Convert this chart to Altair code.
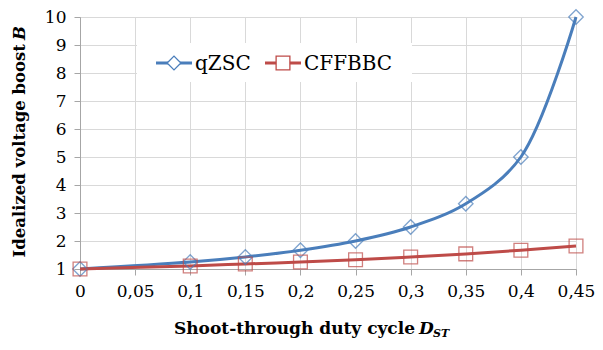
import altair as alt
import pandas as pd

# ---- data ----
duty = [0, 0.1, 0.15, 0.2, 0.25, 0.3, 0.35, 0.4, 0.45]
qzsc = [1, 1.25, 1.43, 1.67, 2, 2.5, 3.33, 5, 10]
cffbbc = [1, 1.11, 1.18, 1.25, 1.33, 1.43, 1.54, 1.67, 1.82]
series_names = ["qZSC", "CFFBBC"]
series_colors = ["#4a7ebb", "#be4b48"]
x_ticks = [0, 0.05, 0.1, 0.15, 0.2, 0.25, 0.3, 0.35, 0.4, 0.45]
y_ticks = [1, 2, 3, 4, 5, 6, 7, 8, 9, 10]

rows = []
for d, v in zip(duty, qzsc):
    rows.append({"series": "qZSC", "D": d, "B": v})
for d, v in zip(duty, cffbbc):
    rows.append({"series": "CFFBBC", "D": d, "B": v})
df = pd.DataFrame(rows)

FONT = "DejaVu Serif"
GRID = "#d9d9d9"
AXIS = "#a6a6a6"

x = alt.X("D:Q", scale=alt.Scale(domain=[0, 0.45], nice=False, zero=False),
          axis=alt.Axis(values=x_ticks, title=None, grid=True, gridColor=GRID,
                        domainColor=AXIS, tickColor=AXIS, tickSize=6,
                        labelFont=FONT, labelFontSize=17, labelColor="black",
                        labelPadding=8, labelFlush=False, labelOverlap=False,
                        labelExpr="replace(format(datum.value, '.2~f'), '.', ',')"))
y = alt.Y("B:Q", scale=alt.Scale(domain=[1, 10], nice=False, zero=False),
          axis=alt.Axis(values=y_ticks, title=None, grid=True, gridColor=GRID,
                        domainColor=AXIS, tickColor=AXIS, tickSize=6,
                        labelFont=FONT, labelFontSize=17, labelColor="black",
                        labelPadding=8, labelFlush=False, labelOverlap=False))
color = alt.Color("series:N", scale=alt.Scale(domain=series_names, range=series_colors),
                  legend=None)

base = alt.Chart(df)
lines = base.mark_line(strokeWidth=3, interpolate="catmull-rom").encode(
    x=x, y=y, color=color, detail="series:N")
pts_q = base.transform_filter(alt.datum.series == "qZSC").mark_point(
    shape="diamond", filled=False, size=210, strokeWidth=1.3).encode(x=x, y=y, color=color)
pts_c = base.transform_filter(alt.datum.series == "CFFBBC").mark_point(
    shape="square", filled=False, size=190, strokeWidth=1.3).encode(x=x, y=y, color=color)

one = alt.Data(values=[{"k": 1}])

# legend box
leg_box = alt.Chart(one).mark_rect(fill="white").encode(
    x=alt.value(57), x2=alt.value(332), y=alt.value(26), y2=alt.value(65))
leg_items = []
for name, col, shp, x0 in [("qZSC", series_colors[0], "diamond", 76),
                           ("CFFBBC", series_colors[1], "square", 185)]:
    leg_items.append(alt.Chart(one).mark_rule(color=col, strokeWidth=3).encode(
        x=alt.value(x0), x2=alt.value(x0 + 36), y=alt.value(46)))
    leg_items.append(alt.Chart(one).mark_point(shape=shp, filled=True, fill="white",
                                               stroke=col, size=190, strokeWidth=1.3, opacity=1).encode(
        x=alt.value(x0 + 18), y=alt.value(46)))
    leg_items.append(alt.Chart(one).mark_text(text=name, font=FONT, fontSize=20, align="left",
                                              baseline="middle", color="black").encode(
        x=alt.value(x0 + 39), y=alt.value(47)))

# axis titles (rich text)
xt_main = alt.Chart(one).mark_text(text="Shoot-through duty cycle", font=FONT, fontSize=17,
                                   fontWeight="bold", align="right", baseline="alphabetic",
                                   color="black").encode(x=alt.value(335), y=alt.value(317))
xt_d = alt.Chart(one).mark_text(text="D", font=FONT, fontSize=17, fontWeight="bold",
                                fontStyle="italic", align="left", baseline="alphabetic",
                                color="black").encode(x=alt.value(339), y=alt.value(317))
xt_st = alt.Chart(one).mark_text(text="ST", font=FONT, fontSize=11, fontWeight="bold",
                                 fontStyle="italic", align="left", baseline="alphabetic",
                                 color="black").encode(x=alt.value(353), y=alt.value(320))
yt_main = alt.Chart(one).mark_text(text="Idealized voltage boost", font=FONT, fontSize=16.5,
                                   fontWeight="bold", angle=270, align="right", baseline="middle",
                                   color="black").encode(x=alt.value(-60), y=alt.value(27))
yt_b = alt.Chart(one).mark_text(text="B", font=FONT, fontSize=16.5, fontWeight="bold",
                                fontStyle="italic", angle=270, align="left", baseline="middle",
                                color="black").encode(x=alt.value(-60), y=alt.value(23))

chart = alt.layer(lines, pts_q, pts_c, leg_box, *leg_items, xt_main, xt_d, xt_st,
                  yt_main, yt_b).properties(
    width=496, height=252,
    autosize=alt.AutoSizeParams(type="none"),
    padding={"left": 72, "top": 9, "right": 19, "bottom": 73},
    background="white",
).configure_view(stroke=AXIS, strokeWidth=1)

chart.save("out.html", embed_options={"renderer": "svg", "actions": False})
